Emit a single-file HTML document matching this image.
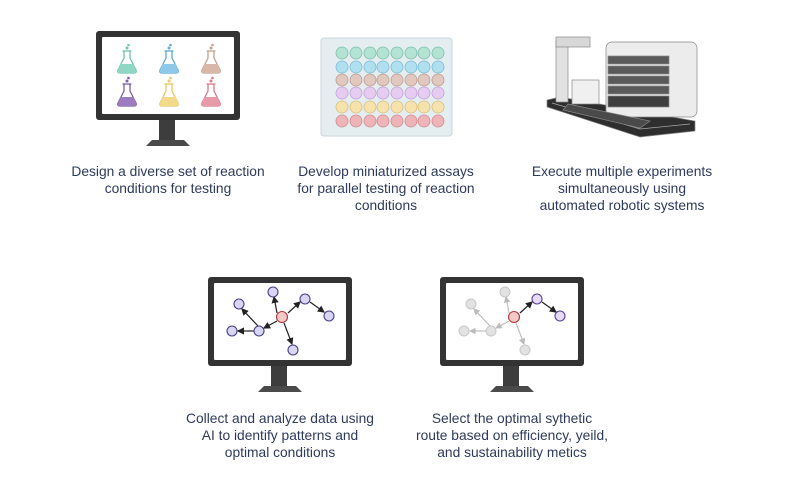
<!DOCTYPE html>
<html><head><meta charset="utf-8"><style>
body{margin:0;background:#fff;}
svg{display:block}
text{font-family:"Liberation Sans",sans-serif;font-size:13.8px;fill:#2e3a5c;text-anchor:middle}
</style></head><body>
<svg width="800" height="491" viewBox="0 0 800 491" xmlns="http://www.w3.org/2000/svg">
<defs>
<g id="mon">
  <rect x="0" y="0" width="144" height="89" rx="3" fill="#333"/>
  <rect x="6" y="6" width="132" height="77" rx="1" fill="#fff"/>
  <rect x="63" y="89" width="16" height="20" fill="#3d3d3d"/>
  <path d="M50 115 L56 109 L88 109 L94 115 Z" fill="#4a4a4a"/>
</g>
<g id="flask">
  <path d="M-3 -10 L-3 -3 L-9 9 Q-10 12 -7 12 L7 12 Q10 12 9 9 L3 -3 L3 -10" fill="#fff" stroke-width="1.3"/>
  <path d="M-6.5 3 L6.5 3 L9 9 Q10 12 7 12 L-7 12 Q-10 12 -9 9 Z" stroke="none"/>
  <line x1="-4.5" y1="-10" x2="4.5" y2="-10" stroke-width="1.3"/>
  <circle cx="0" cy="-13" r="1"/><circle cx="1.5" cy="-16" r="0.8"/>
</g>
<marker id="ab" markerWidth="6" markerHeight="6" refX="5" refY="3" orient="auto"><path d="M0 0 L6 3 L0 6 Z" fill="#222"/></marker>
<marker id="ag" markerWidth="6" markerHeight="6" refX="5" refY="3" orient="auto"><path d="M0 0 L6 3 L0 6 Z" fill="#bbb"/></marker>
</defs>

<!-- Monitor 1 -->
<use href="#mon" x="96" y="31"/>
<g stroke="#6cc3b0" fill="#8fd6c3"><use href="#flask" x="127" y="61"/></g>
<g stroke="#5aa9d4" fill="#8fc9ea"><use href="#flask" x="169" y="61"/></g>
<g stroke="#c5a090" fill="#d9b7a8"><use href="#flask" x="211" y="61"/></g>
<g stroke="#7d5aa5" fill="#9c7bc1"><use href="#flask" x="127" y="94"/></g>
<g stroke="#e9c560" fill="#f3d98a"><use href="#flask" x="169" y="94"/></g>
<g stroke="#d7788a" fill="#e89aa8"><use href="#flask" x="211" y="94"/></g>

<!-- Plate -->
<rect x="321" y="38" width="131" height="98" rx="3" fill="#e4edf0" stroke="#c9d6db"/>
<g stroke-width="0.8">
<g fill="#b3e3d2" stroke="#7fbfa9">
<circle cx="342" cy="53" r="6"/><circle cx="356" cy="53" r="6"/><circle cx="370" cy="53" r="6"/><circle cx="383" cy="53" r="6"/><circle cx="397" cy="53" r="6"/><circle cx="411" cy="53" r="6"/><circle cx="424" cy="53" r="6"/><circle cx="438" cy="53" r="6"/></g>
<g fill="#b0e0f0" stroke="#7cbcd6">
<circle cx="342" cy="67" r="6"/><circle cx="356" cy="67" r="6"/><circle cx="370" cy="67" r="6"/><circle cx="383" cy="67" r="6"/><circle cx="397" cy="67" r="6"/><circle cx="411" cy="67" r="6"/><circle cx="424" cy="67" r="6"/><circle cx="438" cy="67" r="6"/></g>
<g fill="#e0c8be" stroke="#c09d90">
<circle cx="342" cy="80" r="6"/><circle cx="356" cy="80" r="6"/><circle cx="370" cy="80" r="6"/><circle cx="383" cy="80" r="6"/><circle cx="397" cy="80" r="6"/><circle cx="411" cy="80" r="6"/><circle cx="424" cy="80" r="6"/><circle cx="438" cy="80" r="6"/></g>
<g fill="#e6ccf0" stroke="#c3a0d6">
<circle cx="342" cy="93" r="6"/><circle cx="356" cy="93" r="6"/><circle cx="370" cy="93" r="6"/><circle cx="383" cy="93" r="6"/><circle cx="397" cy="93" r="6"/><circle cx="411" cy="93" r="6"/><circle cx="424" cy="93" r="6"/><circle cx="438" cy="93" r="6"/></g>
<g fill="#f5e2ad" stroke="#d9c080">
<circle cx="342" cy="107" r="6"/><circle cx="356" cy="107" r="6"/><circle cx="370" cy="107" r="6"/><circle cx="383" cy="107" r="6"/><circle cx="397" cy="107" r="6"/><circle cx="411" cy="107" r="6"/><circle cx="424" cy="107" r="6"/><circle cx="438" cy="107" r="6"/></g>
<g fill="#efb4b8" stroke="#cf8c92">
<circle cx="342" cy="121" r="6"/><circle cx="356" cy="121" r="6"/><circle cx="370" cy="121" r="6"/><circle cx="383" cy="121" r="6"/><circle cx="397" cy="121" r="6"/><circle cx="411" cy="121" r="6"/><circle cx="424" cy="121" r="6"/><circle cx="438" cy="121" r="6"/></g>
</g>

<!-- Robot -->
<g stroke="#888" stroke-width="0.7">
<path d="M547 100 L560 97 L695 121 L695 131 L640 137 L547 107 Z" fill="#2e2e2e"/>
<path d="M552 103 L640 129 L690 124" fill="none" stroke="#aaa"/>
<rect x="606" y="42" width="91" height="75" rx="6" fill="#ececec"/>
<rect x="608" y="56" width="61" height="8" fill="#5a5a5a"/>
<rect x="608" y="66" width="61" height="8" fill="#5a5a5a"/>
<rect x="608" y="76" width="61" height="8" fill="#5a5a5a"/>
<rect x="608" y="86" width="61" height="8" fill="#5a5a5a"/>
<rect x="608" y="96" width="61" height="11" fill="#3e3e3e"/>
<rect x="556" y="40" width="12" height="62" fill="#e2e2e2"/>
<rect x="556" y="37" width="34" height="10" fill="#d8d8d8"/>
<rect x="572" y="80" width="27" height="24" fill="#f0f0f0"/>
<path d="M568 104 L650 121 L640 128 L563 110 Z" fill="#4a4a4a"/>
</g>

<!-- Monitor 2 -->
<use href="#mon" x="208" y="277"/>
<g stroke="#222" stroke-width="1.2" fill="none">
<line x1="277" y1="313" x2="274" y2="297" marker-end="url(#ab)"/>
<line x1="288" y1="313" x2="300" y2="302" marker-end="url(#ab)"/>
<line x1="310" y1="302" x2="324" y2="312" marker-end="url(#ab)"/>
<line x1="277" y1="321" x2="264" y2="328" marker-end="url(#ab)"/>
<line x1="284" y1="323" x2="292" y2="344" marker-end="url(#ab)"/>
<line x1="258" y1="326" x2="242" y2="309" marker-end="url(#ab)"/>
<line x1="254" y1="331" x2="238" y2="331" marker-end="url(#ab)"/>
</g>
<g fill="#d8d6f3" stroke="#4b3f86" stroke-width="1.1">
<circle cx="273" cy="292" r="5"/><circle cx="239" cy="304" r="5"/><circle cx="305" cy="299" r="5"/><circle cx="329" cy="316" r="5"/><circle cx="259" cy="331" r="5"/><circle cx="232" cy="331" r="5"/><circle cx="293" cy="350" r="5"/>
</g>
<circle cx="282" cy="317" r="5.5" fill="#f6c9c9" stroke="#b03838" stroke-width="1.1"/>

<!-- Monitor 3 -->
<use href="#mon" x="440" y="277"/>
<g stroke="#bbb" stroke-width="1.1" fill="none">
<line x1="509" y1="313" x2="506" y2="297" marker-end="url(#ag)"/>
<line x1="509" y1="321" x2="496" y2="328" marker-end="url(#ag)"/>
<line x1="516" y1="323" x2="524" y2="344" marker-end="url(#ag)"/>
<line x1="490" y1="326" x2="474" y2="309" marker-end="url(#ag)"/>
<line x1="486" y1="331" x2="470" y2="331" marker-end="url(#ag)"/>
</g>
<g stroke="#222" stroke-width="1.2"><line x1="520" y1="313" x2="532" y2="302" marker-end="url(#ab)"/><line x1="542" y1="302" x2="556" y2="312" marker-end="url(#ab)"/></g>
<g fill="#e2e2e2" stroke="#c8c8c8"><circle cx="505" cy="292" r="5"/><circle cx="471" cy="304" r="5"/><circle cx="491" cy="331" r="5"/><circle cx="464" cy="331" r="5"/><circle cx="525" cy="350" r="5"/></g>
<g fill="#e4dcf6" stroke="#5a3f96" stroke-width="1.1"><circle cx="537" cy="299" r="5"/><circle cx="560" cy="316" r="5"/></g>
<circle cx="514" cy="317" r="5.5" fill="#f6c9c9" stroke="#b03838" stroke-width="1.1"/>

<!-- Captions -->
<text x="168" y="176">Design a diverse set of reaction</text>
<text x="168" y="193">conditions for testing</text>
<text x="386" y="176">Develop miniaturized assays</text>
<text x="386" y="193">for parallel testing of reaction</text>
<text x="386" y="210">conditions</text>
<text x="622" y="176">Execute multiple experiments</text>
<text x="622" y="193">simultaneously using</text>
<text x="622" y="210">automated robotic systems</text>
<text x="280" y="423">Collect and analyze data using</text>
<text x="280" y="440">AI to identify patterns and</text>
<text x="280" y="457">optimal conditions</text>
<text x="512" y="423">Select the optimal sythetic</text>
<text x="512" y="440">route based on efficiency, yeild,</text>
<text x="512" y="457">and sustainability metics</text>
</svg>
</body></html>
